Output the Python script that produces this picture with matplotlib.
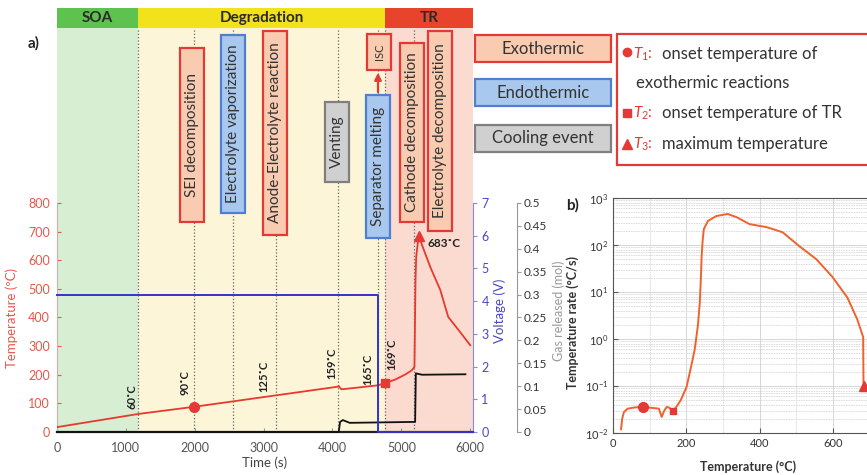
import numpy as np
import matplotlib.pyplot as plt
from matplotlib.patches import Rectangle
from matplotlib.ticker import FuncFormatter, LogLocator, NullFormatter

plt.rcParams['font.family'] = ['Lato', 'DejaVu Sans']
plt.rcParams['mathtext.fontset'] = 'custom'
plt.rcParams['mathtext.rm'] = 'Lato'
plt.rcParams['mathtext.it'] = 'Lato:italic'
plt.rcParams['mathtext.bf'] = 'Lato:bold'

# ---------------- panel a data ----------------
time_s = [0, 1180, 1990, 3180, 4070, 4090, 4130, 4660, 4760, 4900, 5050, 5150, 5190,
          5205, 5215, 5250, 5420, 5565, 5680, 5850, 6000]
temp_c = [17, 63, 88, 128, 158, 160, 149, 163, 171, 182, 200, 215, 228,
          530, 610, 685, 576, 496, 402, 350, 303]

volt_time = [0, 4660, 4660, 6040]
volt_v = [4.2, 4.2, 0, 0]

gas_time = [0, 4090, 4110, 4150, 4250, 5180, 5200, 5210, 5300, 5930]
gas_mol = [0, 0, 0.022, 0.026, 0.020, 0.022, 0.022, 0.128, 0.125, 0.126]

phase_names = ['SOA', 'Degradation', 'TR']
phase_edges = [0, 1180, 4760, 6040]
event_times = [1180, 1990, 2560, 3180, 4080, 4660, 4760, 5190]

onset_labels = ['60˚C', '90˚C', '125˚C', '159˚C', '165˚C', '169˚C']
onset_label_t = [1090, 1860, 3007, 3996, 4519, 4867]
onset_label_T = [122, 171, 196, 240, 220, 272]

t1_time, t2_time, t3_time = 1990, 4760, 5250

# ---------------- panel b data ----------------
rate_temp = [22, 25, 30, 40, 60, 82, 110, 125, 133, 140, 147, 155, 160, 165, 175, 185,
             201, 215, 223, 232, 237, 240, 242, 245, 248, 259, 282, 313, 337, 373,
             419, 463, 509, 555, 599, 640, 667, 683, 684]
rate_val = [0.012, 0.02, 0.028, 0.033, 0.035, 0.036, 0.034, 0.033, 0.022, 0.03, 0.036,
            0.034, 0.03, 0.03, 0.038, 0.05, 0.096, 0.3, 0.59, 2, 6, 20, 58, 130, 218,
            323, 413, 457, 392, 278, 240, 187, 94, 50, 21, 7.6, 2.6, 1.1, 0.1]
b_t1, b_t2, b_t3 = 82, 163, 684

RED = '#e53935'
W, H = 867, 475


def px_rect(x0, y0, x1, y1):
    return [x0 / W, 1 - y1 / H, (x1 - x0) / W, (y1 - y0) / H]


fig = plt.figure(figsize=(W / 100, H / 100), dpi=100)

# ---------------- panel a ----------------
ax = fig.add_axes(px_rect(57, 28, 473, 432))
ax.set_xlim(0, 6040)
ax.set_ylim(0, 1411)
shade = ['#d8eed2', '#fcf5d8', '#fbdad0']
for i in range(3):
    ax.axvspan(phase_edges[i], phase_edges[i + 1], color=shade[i], lw=0, zorder=0)
for t in event_times:
    ax.axvline(t, color='#666', ls=':', lw=0.9, zorder=1)
ax.plot(time_s, temp_c, color='#e8392f', lw=1.3, zorder=3)
ax.plot(t1_time, np.interp(t1_time, time_s, temp_c), 'o', color=RED, ms=7, zorder=4)
ax.plot(t2_time, np.interp(t2_time, time_s, temp_c), 's', color=RED, ms=6, zorder=4)
ax.plot(t3_time, np.interp(t3_time, time_s, temp_c), '^', color=RED, ms=7, zorder=4)
for lab, tx, ty in zip(onset_labels, onset_label_t, onset_label_T):
    ax.text(tx, ty, lab, rotation=90, ha='center', va='center', fontsize=8,
            fontweight='bold', color='#222', zorder=5)
ax.text(5375, 660, '683˚C', ha='left', va='center', fontsize=8.5,
        fontweight='bold', color='#222', zorder=5)

ax.set_xticks(range(0, 7000, 1000))
ax.set_yticks(range(0, 900, 100))
ax.spines['left'].set_bounds(0, 800)
ax.spines['left'].set_color('#c9b0b0')
ax.spines['top'].set_visible(False)
ax.spines['right'].set_visible(False)
ax.spines['bottom'].set_color('#222')
ax.spines['bottom'].set_linewidth(1.6)
ax.tick_params(axis='y', direction='in', colors='#e8574a', labelsize=9, pad=5, length=3)
ax.tick_params(axis='x', direction='in', colors='#999', labelcolor='#555', labelsize=9,
               pad=7, length=3)
ax.set_xlabel('Time (s)', fontsize=9.5, color='#444', labelpad=2)
ax.set_ylabel('Temperature (ºC)', fontsize=9.5, color='#e8574a')
ax.yaxis.set_label_coords(-0.094, 0.282)

ax_v = ax.twinx()
ax_v.set_ylim(0, 7 * 1411 / 800)
ax_v.plot(volt_time, volt_v, color='#3434c8', lw=1.4, zorder=3, clip_on=False)
ax_v.set_yticks(range(0, 8))
for s in ['left', 'top', 'bottom']:
    ax_v.spines[s].set_visible(False)
ax_v.spines['right'].set_bounds(0, 7)
ax_v.spines['right'].set_color('#8888dd')
ax_v.tick_params(axis='y', colors='#8888dd', labelcolor='#4848c0', labelsize=9, pad=3, length=3)
ax_v.set_ylabel('Voltage (V)', fontsize=9.5, color='#4848c0')
ax_v.yaxis.set_label_coords(1.048, 0.30)

ax_g = ax.twinx()
ax_g.set_ylim(0, 0.5 * 1411 / 800)
ax_g.plot(gas_time, gas_mol, color='#111', lw=1.3, zorder=2, clip_on=False)
ax_g.set_yticks(np.arange(0, 0.51, 0.05))
ax_g.yaxis.set_major_formatter(FuncFormatter(lambda v, p: '%g' % round(v, 2)))
for s in ['left', 'top', 'bottom']:
    ax_g.spines[s].set_visible(False)
ax_g.spines['right'].set_position(('axes', 1.1055))
ax_g.spines['right'].set_bounds(0, 0.5)
ax_g.spines['right'].set_color('#999')
ax_g.tick_params(axis='y', colors='#999', labelcolor='#333', labelsize=8.5, pad=2, length=3)
ax_g.set_ylabel('Gas released (mol)', fontsize=9, color='#999')
ax_g.yaxis.set_label_coords(1.19, 0.30)
ax_v.set_zorder(ax_g.get_zorder() + 1)

# phase band on top
ax_band = fig.add_axes(px_rect(57, 8, 473, 28))
ax_band.set_xlim(0, 6040)
ax_band.set_ylim(0, 1)
band_col = ['#5ec24e', '#f1e21c', '#e8442c']
for i, name in enumerate(phase_names):
    ax_band.axvspan(phase_edges[i], phase_edges[i + 1], color=band_col[i], lw=0)
    ax_band.text((phase_edges[i] + phase_edges[i + 1]) / 2, 0.5, name, ha='center',
                 va='center', fontsize=11, fontweight='bold', color='#2a2a2a')
ax_band.axis('off')

# ---------------- panel b ----------------
bx = fig.add_axes(px_rect(613, 198, 906, 433))
bx.set_yscale('log')
bx.set_xlim(0, 800)
bx.set_ylim(1e-2, 1e3)
bx.plot(rate_temp, rate_val, color='#f0622d', lw=1.4, zorder=3)
lr = np.log10(rate_val)
bx.plot(b_t1, 10 ** np.interp(b_t1, rate_temp, lr), 'o', color=RED, ms=7, zorder=4)
bx.plot(b_t2, 10 ** np.interp(b_t2, rate_temp, lr), 's', color=RED, ms=5, zorder=4)
bx.plot(b_t3, 0.1, '^', color=RED, ms=7, zorder=4)
bx.set_xticks([0, 200, 400, 600])
bx.yaxis.set_minor_locator(LogLocator(subs=np.arange(2, 10)))
bx.yaxis.set_minor_formatter(NullFormatter())
bx.set_xticks(np.arange(100, 800, 100), minor=True)
bx.grid(which='major', color='#d0d0d0', lw=0.6)
bx.grid(which='minor', color='#d8d8d8', lw=0.6, ls=(0, (2, 1)))
for s in bx.spines.values():
    s.set_color('#555')
bx.tick_params(which='both', direction='in', labelsize=8, colors='#555', labelcolor='#333')
bx.tick_params(which='minor', length=0)
bx.set_xlabel('Temperature (°C)', fontsize=9, fontweight='bold', color='#333')
bx.set_ylabel('Temperature rate (°C/s)', fontsize=9, fontweight='bold', color='#333')
bx.yaxis.set_label_coords(-0.115, 0.47)
bx.xaxis.set_label_coords(0.46, -0.115)

# ---------------- annotation overlay (pixel coordinates) ----------------
ov = fig.add_axes([0, 0, 1, 1])
ov.set_xlim(0, W)
ov.set_ylim(H, 0)
ov.axis('off')

kind_style = {
    'exo': ('#f9cbb1', '#e53935'),
    'endo': ('#a9c8ee', '#4f7fd0'),
    'cool': ('#d0d0d0', '#7f7f7f'),
}
box_labels = ['SEI decomposition', 'Electrolyte vaporization', 'Anode-Electrolyte reaction',
              'Venting', 'Separator melting', 'ISC', 'Cathode decomposition',
              'Electrolyte decomposition']
box_kinds = ['exo', 'endo', 'exo', 'cool', 'endo', 'exo', 'exo', 'exo']
box_x = [192, 233, 275, 337, 378, 379, 412, 440]
box_top = [48, 35, 31, 102, 95, 34, 43, 31]
box_bot = [222, 213, 235, 182, 238, 70, 222, 231]
for lab, k, cx, y0, y1 in zip(box_labels, box_kinds, box_x, box_top, box_bot):
    fc, ec = kind_style[k]
    ov.add_patch(Rectangle((cx - 12, y0), 24, y1 - y0, fc=fc, ec=ec, lw=1.6, zorder=5))
    ov.text(cx, (y0 + y1) / 2, lab, rotation=90, ha='center', va='center',
            fontsize=8 if lab == 'ISC' else 11, color='#333', zorder=6)
ov.annotate('', xy=(378, 70), xytext=(378, 95),
            arrowprops=dict(arrowstyle='-|>', color=RED, lw=1.6, mutation_scale=10),
            zorder=6)

legend_kinds = ['exo', 'endo', 'cool']
legend_labels = ['Exothermic', 'Endothermic', 'Cooling event']
legend_top = [35, 79, 125]
for k, lab, y0 in zip(legend_kinds, legend_labels, legend_top):
    fc, ec = kind_style[k]
    ov.add_patch(Rectangle((475, y0), 136, 27, fc=fc, ec=ec, lw=1.6))
    ov.text(543, y0 + 13.5, lab, ha='center', va='center', fontsize=12, color='#333')

ov.add_patch(Rectangle((617, 34), 260, 131, fc='white', ec=RED, lw=1.6))
ov.plot(627, 52, 'o', color=RED, ms=6)
ov.plot(627, 113, 's', color=RED, ms=6)
ov.plot(627, 144, '^', color=RED, ms=7)
sym = [r'$\mathit{T_1}$:', r'$\mathit{T_2}$:', r'$\mathit{T_3}$:']
txt = ['onset temperature of', 'onset temperature of TR', 'maximum temperature']
ys = [54, 113, 144]
for s, t, y in zip(sym, txt, ys):
    ov.text(633, y, s, ha='left', va='center', fontsize=11, color=RED)
    ov.text(662, y, t, ha='left', va='center', fontsize=12, color='#333')
ov.text(636, 83, 'exothermic reactions', ha='left', va='center', fontsize=12, color='#333')

ov.text(28, 43, 'a)', ha='left', va='center', fontsize=11, fontweight='bold', color='#222')
ov.text(566, 205, 'b)', ha='left', va='center', fontsize=11, fontweight='bold', color='#222')

fig.savefig('out.png', dpi=100)
